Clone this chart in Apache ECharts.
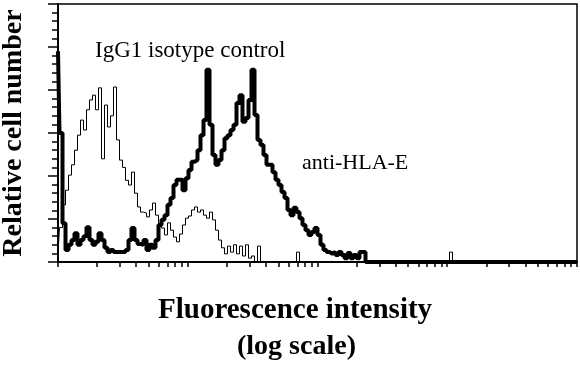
<!DOCTYPE html>
<html>
<head>
<meta charset="utf-8">
<script src="https://cdn.jsdelivr.net/npm/echarts@6/dist/echarts.min.js"></script>
<style>
  html, body { margin: 0; padding: 0; background: #fff; }
  #facs { width: 580px; height: 365px; }
</style>
</head>
<body>
<div id="facs"></div>
<script>
// histogram bins (channel index along the log intensity axis)
var channels = Array.from({ length: 174 }, function (_, i) { return i; });

// IgG1 isotype control (thin line)
var isotype = [
  2, 8, 13.3, 16.7, 20.2, 22.6, 26, 29.5, 33, 30.7,
  35.4, 37.7, 38.8, 35.4, 40.5, 24, 36.5, 31.4, 34, 40.7,
  28.4, 23.7, 22, 19, 17.9, 20.9, 16, 12.8, 11.6, 11.4,
  10.5, 12.1, 13.7, 10.9, 8.6, 7.9, 6.3, 9.1, 7.4, 5.8,
  4.7, 6.5, 8.6, 10.2, 10.7, 12.1, 12.8, 11.6, 12.1, 10.9,
  10.2, 11.6, 9.8, 7.4, 5.1, 3.3, 1.9, 3.7, 2.3, 4,
  1.9, 3.7, 1.4, 4, 0.9, 1.4, 0, 3.7, 0, 0,
  0, 0, 0, 0, 0, 0, 0, 0, 0, 0,
  2.3, 0, 0, 0, 0, 0, 0, 0, 0, 0,
  0, 0, 0, 0, 0, 0, 0, 0, 0, 0,
  0, 0, 0, 0, 0, 0, 0, 0, 0, 0,
  0, 0, 0, 0, 0, 0, 0, 0, 0, 0,
  0, 0, 0, 0, 0, 0, 0, 0, 0, 0,
  0, 2.3, 0, 0, 0, 0, 0, 0, 0, 0,
  0, 0, 0, 0, 0, 0, 0, 0, 0, 0,
  0, 0, 0, 0, 0, 0, 0, 0, 0, 0,
  0, 0, 0, 0, 0, 0, 0, 0, 0, 0,
  0, 0, 0, 0
];

// anti-HLA-E (thick line)
var antiHLAE = [
  49, 30, 9, 2.8, 4, 5.1, 6.7, 4, 5.1, 6,
  8.1, 5.1, 4, 4.7, 6.7, 5.1, 3.3, 2.3, 2.8, 2.3,
  2.3, 2.3, 2.3, 2.8, 5.1, 7.9, 5.1, 4.2, 4, 5.1,
  2.8, 4, 3.3, 5.1, 8.6, 9.8, 10.9, 13.3, 14.9, 17.9,
  19.1, 19.1, 16.7, 19.5, 21.4, 23.3, 23.7, 26, 29.5, 33,
  44.7, 31.9, 24.9, 22.6, 23.7, 26, 28.8, 29.5, 30.7, 31.9,
  37, 38.8, 32.6, 33.5, 37.7, 44.7, 34.2, 28.4, 27.2, 24.9,
  22.6, 22.6, 20.9, 19.1, 17.9, 16.3, 14.9, 12.1, 10.9, 12.6,
  11.6, 10.2, 8.6, 7.4, 6.3, 7, 7.9, 6.3, 4, 2.8,
  2.3, 1.9, 2.3, 1.6, 2.3, 1.6, 0.9, 2.1, 0.9, 1.6,
  0.9, 2.3, 2.3, 0, 0, 0, 0, 0, 0, 0,
  0, 0, 0, 0, 0, 0, 0, 0, 0, 0,
  0, 0, 0, 0, 0, 0, 0, 0, 0, 0,
  0, 0, 0, 0, 0, 0, 0, 0, 0, 0,
  0, 0, 0, 0, 0, 0, 0, 0, 0, 0,
  0, 0, 0, 0, 0, 0, 0, 0, 0, 0,
  0, 0, 0, 0, 0, 0, 0, 0, 0, 0,
  0, 0, 0, 0
];

// log axis ticks: decades plus 2..9 in each
var decades = [1, 10, 100, 1000];
var multipliers = [1, 2, 3, 4, 5, 6, 7, 8, 9];
var logTicks = [];
decades.forEach(function (d) {
  multipliers.forEach(function (m) { logTicks.push(d * m); });
});
logTicks.push(10000);

var serif = '"Liberation Serif", "Times New Roman", serif';

var chart = echarts.init(document.getElementById('facs'));
var option = {
  animation: false,
  grid: {
    left: 58, right: 3, top: 4, bottom: 103,
    containLabel: false,
    outerBoundsMode: 'none',
    show: true,
    borderColor: '#000',
    borderWidth: 1.5,
    backgroundColor: '#fff'
  },
  xAxis: [
    {
      type: 'log',
      logBase: 10,
      min: 1,
      max: 10000,
      axisLine: { show: true, lineStyle: { color: '#000', width: 2 } },
      axisTick: { show: true, customValues: logTicks, length: 5, lineStyle: { color: '#000', width: 1.5 } },
      axisLabel: { show: false },
      splitLine: { show: false },
      minorTick: { show: false }
    },
    {
      type: 'category',
      data: channels,
      boundaryGap: false,
      show: false
    }
  ],
  yAxis: {
    type: 'value',
    min: 0,
    max: 60,
    interval: 10,
    name: 'Relative cell number',
    nameLocation: 'middle',
    nameGap: 30,
    nameTextStyle: { fontFamily: serif, fontWeight: 'bold', fontSize: 28, color: '#000' },
    axisLine: { show: true, lineStyle: { color: '#000', width: 2 } },
    axisTick: { show: true, length: 10, lineStyle: { color: '#000', width: 1.5 } },
    minorTick: { show: true, splitNumber: 5, length: 6, lineStyle: { color: '#000', width: 1.5 } },
    axisLabel: { show: false },
    splitLine: { show: false }
  },
  series: [
    {
      name: 'IgG1 isotype control',
      type: 'line',
      xAxisIndex: 1,
      data: isotype,
      step: 'middle',
      symbol: 'none',
      lineStyle: { color: '#000', width: 1 }
    },
    {
      name: 'anti-HLA-E',
      type: 'line',
      xAxisIndex: 1,
      data: antiHLAE,
      step: 'middle',
      symbol: 'none',
      lineStyle: { color: '#000', width: 4 }
    }
  ],
  graphic: [
    {
      type: 'text', left: 95, top: 39,
      style: { text: 'IgG1 isotype control', font: '23px ' + serif, fill: '#000' }
    },
    {
      type: 'text', left: 302, top: 152,
      style: { text: 'anti-HLA-E', font: '22px ' + serif, fill: '#000' }
    },
    {
      type: 'text', left: 158, top: 296,
      style: { text: 'Fluorescence intensity', font: 'bold 29px ' + serif, fill: '#000' }
    },
    {
      type: 'text', left: 237, top: 333,
      style: { text: '(log scale)', font: 'bold 28px ' + serif, fill: '#000' }
    }
  ]
};
chart.setOption(option);
</script>
</body>
</html>
